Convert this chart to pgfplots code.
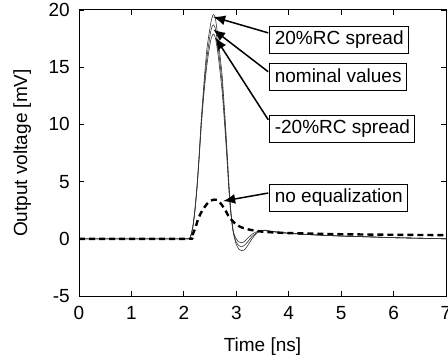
\documentclass[border=0pt]{standalone}
\usepackage{pgfplots}
\pgfplotsset{compat=1.18}
\usepackage{fontspec}
\setmainfont{Liberation Sans}
\usetikzlibrary{arrows.meta}
\newcommand{\ff}{\fontsize{19}{22}\selectfont}
\begin{document}
\begin{tikzpicture}
\begin{axis}[
  name=ax,
  scale only axis,
  width=367pt, height=286pt,
  xmin=0, xmax=7, ymin=-5, ymax=20,
  xtick={0,1,...,7}, ytick={-5,0,5,10,15,20},
  /pgf/number format/assume math mode=true,
  tick label style={font=\ff},
  xticklabel style={inner sep=0pt, anchor=north, yshift=-10pt},
  yticklabel style={inner sep=0pt, anchor=east, xshift=-9pt},
  tick align=inside,
  major tick length=5pt,
  every tick/.style={black, line width=0.8pt},
  axis line style={line width=1pt},
  xlabel={Time [ns]},
  ylabel={Output voltage [mV]},
  every axis x label/.style={at={(axis description cs:0.5,-0.178)}, anchor=center, font=\ff},
  every axis y label/.style={at={(axis description cs:-0.155,0.5)}, anchor=center, rotate=90, font=\ff},
  clip=true,
]
% 20%RC spread
\addplot[black!80, line width=0.6pt, smooth, tension=0.4] coordinates {
(0,0) (2.05,0) (2.12,0.1) (2.17,1.0) (2.21,2.5) (2.25,4.5) (2.29,7.2) (2.33,10.3)
(2.37,12.8) (2.40,14.6) (2.44,16.6) (2.48,17.9) (2.52,19.0) (2.56,19.6) (2.60,19.3)
(2.65,17.6) (2.69,16.0) (2.73,14.3) (2.76,12.3) (2.79,10.3) (2.83,7.2) (2.86,4.8)
(2.89,2.8) (2.92,1.4) (2.95,0.4) (3.00,-0.5) (3.05,-0.9) (3.11,-1.05) (3.17,-0.9)
(3.23,-0.5) (3.30,0.0) (3.38,0.45) (3.46,0.7) (3.55,0.75) (3.70,0.65) (4.0,0.5)
(4.5,0.35) (5.0,0.25) (5.5,0.18) (6.0,0.1) (6.5,0.05) (7.0,0.0)};
% nominal
\addplot[black!80, line width=0.6pt, smooth, tension=0.4] coordinates {
(0,0) (2.05,0) (2.12,0.1) (2.17,1.0) (2.21,2.5) (2.25,4.5) (2.29,7.1) (2.33,10.0)
(2.37,12.4) (2.40,14.0) (2.44,15.8) (2.48,17.2) (2.52,18.3) (2.56,18.7) (2.60,18.4)
(2.65,16.9) (2.69,15.3) (2.73,13.6) (2.76,11.7) (2.79,9.7) (2.83,6.8) (2.86,4.5)
(2.89,2.6) (2.92,1.3) (2.95,0.4) (3.00,-0.3) (3.05,-0.6) (3.10,-0.7) (3.16,-0.55)
(3.23,-0.2) (3.30,0.2) (3.38,0.5) (3.46,0.7) (3.55,0.72) (3.70,0.62) (4.0,0.48)
(4.5,0.34) (5.0,0.24) (5.5,0.17) (6.0,0.1) (6.5,0.05) (7.0,0.0)};
% -20%RC spread
\addplot[black!80, line width=0.6pt, smooth, tension=0.4] coordinates {
(0,0) (2.05,0) (2.12,0.1) (2.17,1.0) (2.21,2.4) (2.25,4.4) (2.29,6.9) (2.33,9.7)
(2.37,12.0) (2.40,13.5) (2.44,15.2) (2.48,16.5) (2.52,17.5) (2.56,17.9) (2.60,17.6)
(2.65,16.2) (2.69,14.6) (2.73,12.9) (2.76,11.1) (2.79,9.2) (2.83,6.4) (2.86,4.2)
(2.89,2.5) (2.92,1.3) (2.95,0.5) (3.00,0.0) (3.04,-0.25) (3.09,-0.35) (3.15,-0.25)
(3.22,0.05) (3.30,0.4) (3.38,0.6) (3.46,0.72) (3.55,0.72) (3.70,0.62) (4.0,0.48)
(4.5,0.34) (5.0,0.24) (5.5,0.17) (6.0,0.1) (6.5,0.05) (7.0,0.0)};
% no equalization
\addplot[black, line width=2.4pt, dash pattern=on 6pt off 4pt, smooth, tension=0.4] coordinates {
(0,0) (2.05,0) (2.12,0.05) (2.18,0.5) (2.23,1.1) (2.27,1.7) (2.33,2.3) (2.40,2.8)
(2.47,3.2) (2.55,3.4) (2.63,3.4) (2.70,3.1) (2.78,2.6) (2.85,2.0) (2.92,1.6)
(3.0,1.25) (3.1,1.0) (3.25,0.8) (3.5,0.62) (3.75,0.55) (4.0,0.5) (4.5,0.45)
(5.0,0.4) (6.0,0.35) (7.0,0.32)};
% annotations
\begin{scope}[every node/.style={draw=black, line width=1pt, fill=white, font=\ff,
  inner xsep=5pt, inner ysep=4pt, text height=14.5pt, text depth=4.5pt, anchor=west}]
\node at (axis cs:3.63,17.4) {20\%RC spread};
\node at (axis cs:3.63,14.1) {nominal values};
\node at (axis cs:3.63,9.6) {-20\%RC spread};
\node at (axis cs:3.63,3.6) {no equalization};
\end{scope}
\begin{scope}[line width=1.5pt, -{Latex[length=12pt,width=10pt]}]
\draw (axis cs:3.61,18.0) -- (axis cs:2.56,19.4);
\draw (axis cs:3.61,14.6) -- (axis cs:2.56,18.3);
\draw (axis cs:3.61,10.4) -- (axis cs:2.60,17.6);
\draw (axis cs:3.61,4.0) -- (axis cs:2.75,3.3);
\end{scope}
\end{axis}
\pgfresetboundingbox
\path[use as bounding box] ([shift={(-79pt,-65pt)}]ax.south west) rectangle ([shift={(2pt,10pt)}]ax.north east);
\end{tikzpicture}
\end{document}
